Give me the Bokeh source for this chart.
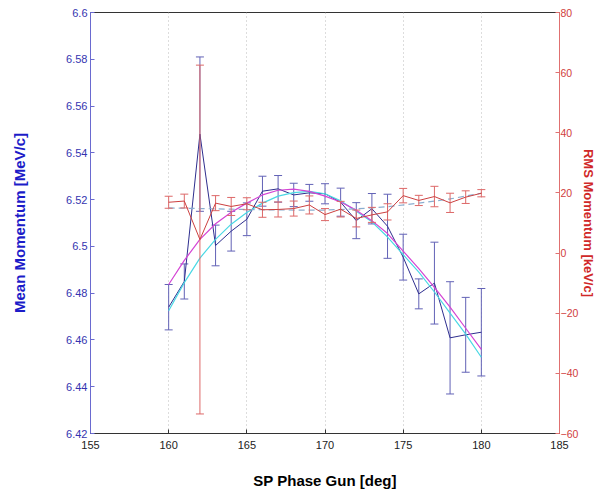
from bokeh.plotting import figure
from bokeh.models import Range1d, LinearAxis, FixedTicker
from bokeh.embed import file_html
from bokeh.resources import INLINE

# ---- data ----
phase = [160, 161, 162, 163, 164, 165, 166, 167, 168, 169, 170,
         171, 172, 173, 174, 175, 176, 177, 178, 179, 180]

mean_mom = [6.474, 6.485, 6.548, 6.5004, 6.5065, 6.5116, 6.5236, 6.5246, 6.522, 6.5229, 6.5225,
            6.5189, 6.511, 6.5161, 6.5086, 6.4954, 6.4797, 6.4843, 6.4609, 6.4622, 6.4633]
mean_err = [0.0097, 0.0075, 0.033, 0.0087, 0.0085, 0.007, 0.0064, 0.0057, 0.005, 0.0036, 0.0043,
            0.006, 0.0077, 0.0065, 0.0137, 0.0098, 0.0064, 0.0175, 0.024, 0.016, 0.0187]

rms_mom = [16.9, 17.3, 4.5, 16.6, 15.5, 16.4, 14.4, 14.5, 14.8, 16.0, 12.8,
           14.6, 11.5, 12.7, 13.7, 19.1, 17.5, 18.8, 16.7, 18.6, 19.9]
rms_err = [2.0, 2.3, 58.0, 2.5, 3.0, 2.0, 2.5, 2.5, 2.5, 3.0, 2.0,
           2.6, 2.8, 2.5, 2.7, 2.4, 1.7, 3.4, 3.2, 2.1, 1.2]

fit_magenta = [6.4837, 6.494, 6.503, 6.5097, 6.5146, 6.5185, 6.522, 6.524, 6.5245, 6.5235, 6.5215,
               6.519, 6.5155, 6.511, 6.5055, 6.498, 6.4905, 6.4825, 6.474, 6.465, 6.456]
fit_cyan = [6.4725, 6.4845, 6.495, 6.503, 6.5095, 6.5145, 6.5185, 6.5215, 6.523, 6.5235, 6.5225,
            6.5195, 6.515, 6.5105, 6.504, 6.4965, 6.489, 6.4805, 6.4715, 6.4625, 6.4526]

rms_fit_x = [160, 162, 164, 166, 168, 170, 172, 174, 176, 178, 180]
rms_fit = [15.0, 14.8, 14.6, 14.4, 14.3, 14.3, 14.7, 15.4, 16.6, 18.0, 19.9]

x_ticks = [155, 160, 165, 170, 175, 180, 185]
left_ticks = [6.42, 6.44, 6.46, 6.48, 6.5, 6.52, 6.54, 6.56, 6.58, 6.6]
left_tick_labels = ["6.42", "6.44", "6.46", "6.48", "6.5", "6.52", "6.54", "6.56", "6.58", "6.6"]
right_ticks = [-60, -40, -20, 0, 20, 40, 60, 80]

FONT = "Liberation Sans"
BLUE_LINE = "#2e2e8e"
BLUE_BAR = "#6262b6"
RED_LINE = "#cc4040"
RED_BAR = "#dd6868"

p = figure(width=600, height=499, output_backend="svg", toolbar_location=None,
           x_range=Range1d(155, 185), y_range=Range1d(6.42, 6.6),
           min_border_left=90, min_border_right=41, min_border_top=12, min_border_bottom=66)
p.background_fill_color = "white"
p.border_fill_color = "white"
p.outline_line_color = "#333333"
p.outline_line_width = 1

p.extra_y_ranges = {"rms": Range1d(-60, 80)}

# grid
p.ygrid.visible = False
p.xgrid.grid_line_color = "#bbbbbb"
p.xgrid.grid_line_dash = "1 3"
p.xgrid.ticker = FixedTicker(ticks=x_ticks)

# x axis
xa = p.xaxis[0]
xa.ticker = FixedTicker(ticks=x_ticks)
xa.axis_label = "SP Phase Gun [deg]"
xa.axis_label_text_font = FONT
xa.axis_label_text_font_style = "bold"
xa.axis_label_text_font_size = "15px"
xa.axis_label_text_color = "black"
xa.axis_label_standoff = 20
xa.major_label_text_font = FONT
xa.major_label_text_font_size = "11px"
xa.major_label_text_color = "#222222"
xa.major_label_standoff = 7
xa.major_tick_in = 4
xa.major_tick_out = 0
xa.minor_tick_line_color = None
xa.axis_line_color = "#333333"
xa.major_tick_line_color = "#333333"

# left axis
ya = p.yaxis[0]
ya.ticker = FixedTicker(ticks=left_ticks)
ya.major_label_overrides = {t: s for t, s in zip(left_ticks, left_tick_labels)}
ya.axis_label = "Mean Momentum [MeV/c]"
ya.axis_label_text_font = FONT
ya.axis_label_text_font_style = "bold"
ya.axis_label_text_font_size = "15px"
ya.axis_label_text_color = "#1c1cc8"
ya.axis_label_standoff = 35
ya.major_label_text_font = FONT
ya.major_label_text_font_size = "11px"
ya.major_label_text_color = "#3434b0"
ya.major_label_standoff = 3
ya.major_tick_in = 4
ya.major_tick_out = 0
ya.minor_tick_line_color = None
ya.axis_line_color = "#6a6ad0"
ya.major_tick_line_color = "#6a6ad0"

# right axis
ra = LinearAxis(y_range_name="rms", ticker=FixedTicker(ticks=right_ticks))
ra.axis_label = "RMS Momentum [keV/c]"
ra.axis_label_text_font = FONT
ra.axis_label_text_font_style = "bold"
ra.axis_label_text_font_size = "13px"
ra.axis_label_text_color = "#d02828"
ra.axis_label_standoff = 0
ra.major_label_text_font = FONT
ra.major_label_text_font_size = "10.5px"
ra.major_label_text_color = "#d04040"
ra.major_label_standoff = 1
ra.major_tick_in = 4
ra.major_tick_out = 0
ra.minor_tick_line_color = None
ra.axis_line_color = "#e07070"
ra.major_tick_line_color = "#e07070"
p.add_layout(ra, "right")

# ---- blue series (mean momentum) ----
lo_b = [m - e for m, e in zip(mean_mom, mean_err)]
hi_b = [m + e for m, e in zip(mean_mom, mean_err)]
p.segment(x0=phase, y0=lo_b, x1=phase, y1=hi_b, line_color=BLUE_BAR, line_width=1)
p.scatter(x=phase, y=lo_b, marker="dash", size=8, line_color=BLUE_BAR, line_width=1)
p.scatter(x=phase, y=hi_b, marker="dash", size=8, line_color=BLUE_BAR, line_width=1)
p.line(x=phase, y=mean_mom, line_color=BLUE_LINE, line_width=1)

# fits
p.line(x=phase, y=fit_cyan, line_color="#4ad8e4", line_width=1.2)
p.line(x=phase, y=fit_magenta, line_color="#d444d4", line_width=1.2)

# ---- red series (rms momentum) ----
lo_r = [m - e for m, e in zip(rms_mom, rms_err)]
hi_r = [m + e for m, e in zip(rms_mom, rms_err)]
p.line(x=rms_fit_x, y=rms_fit, y_range_name="rms", line_color="#8aaed0",
       line_width=1.2, line_dash="6 4")
p.segment(x0=phase, y0=lo_r, x1=phase, y1=hi_r, y_range_name="rms",
          line_color=RED_BAR, line_width=1)
p.scatter(x=phase, y=lo_r, y_range_name="rms", marker="dash", size=8,
          line_color=RED_BAR, line_width=1)
p.scatter(x=phase, y=hi_r, y_range_name="rms", marker="dash", size=8,
          line_color=RED_BAR, line_width=1)
p.line(x=phase, y=rms_mom, y_range_name="rms", line_color=RED_LINE, line_width=1)

open("out.html", "w").write(file_html(p, INLINE))
